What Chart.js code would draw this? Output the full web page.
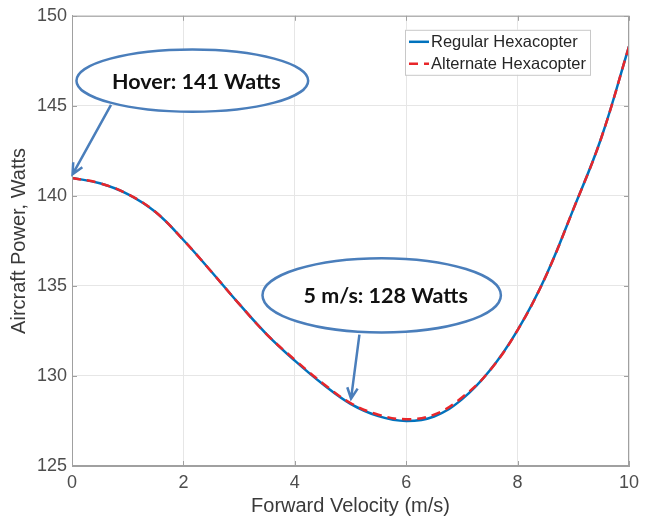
<!DOCTYPE html>
<html>
<head>
<meta charset="utf-8">
<script src="https://cdn.jsdelivr.net/npm/chart.js@4"></script>
<style>
  html, body { margin: 0; padding: 0; background: #fff; }
</style>
</head>
<body>
<canvas id="powerChart" width="648" height="524"></canvas>
<script>
const ctx = document.getElementById("powerChart");

// values
const velocity = [0, 0.5, 1, 1.5, 2, 2.5, 3, 3.5, 4, 4.5, 5, 5.5, 6, 6.5, 7, 7.5, 8, 8.5, 9, 9.5, 10];
const regularPower = [141.0, 140.7, 140.1, 139.1, 137.55, 135.8, 134.0, 132.3, 130.85, 129.55, 128.45, 127.77, 127.5, 127.75, 128.7, 130.3, 132.55, 135.5, 139.25, 143.2, 148.3];
const alternatePower = [141.0, 140.7, 140.1, 139.1, 137.55, 135.8, 134.0, 132.3, 130.9, 129.6, 128.5, 127.85, 127.6, 127.85, 128.8, 130.3, 132.55, 135.5, 139.25, 143.2, 148.3];
const xTicks = [0, 2, 4, 6, 8, 10];
const yTicks = [125, 130, 135, 140, 145, 150];

const seriesNames = ["Regular Hexacopter", "Alternate Hexacopter"];
const calloutTexts = ["Hover: 141 Watts", "5 m/s: 128 Watts"];

// callouts in data units: ellipse centre/radii and arrow from -> to
const callouts = [
    { text: calloutTexts[0], cx: 2.16, cy: 146.4, rx: 2.08, ry: 1.73, ax: 0.70, ay: 145.05, bx: 0.01, by: 141.2 },
    { text: calloutTexts[1], cx: 5.56, cy: 134.48, rx: 2.14, ry: 2.06, ax: 5.16, ay: 132.3, bx: 5.01, by: 128.74 }
];

const tickFont = { family: "Liberation Sans", size: 18 };
const titleFont = { family: "Liberation Sans", size: 20 };
const calloutBlue = "#4A7EBB";

function drawArrow(c, x1, y1, x2, y2) {
    const ang = Math.atan2(y2 - y1, x2 - x1);
    const len = 12;
    c.beginPath();
    c.moveTo(x1, y1);
    c.lineTo(x2, y2);
    c.moveTo(x2 - len * Math.cos(ang - 0.45), y2 - len * Math.sin(ang - 0.45));
    c.lineTo(x2, y2);
    c.lineTo(x2 - len * Math.cos(ang + 0.45), y2 - len * Math.sin(ang + 0.45));
    c.stroke();
}

const extrasPlugin = {
    id: "extras",
    afterDatasetsDraw(chart) {
        const c = chart.ctx;
        const xs = chart.scales.x, ys = chart.scales.y;
        const area = chart.chartArea;

        // box and inward ticks, matlab style
        c.save();
        c.strokeStyle = "#a0a0a0";
        c.lineWidth = 1;
        c.strokeRect(area.left + 0.5, area.top + 0.5, area.right - area.left - 1, area.bottom - area.top - 1);
        c.beginPath();
        xTicks.forEach(v => {
            const px = Math.round(xs.getPixelForValue(v)) + 0.5;
            c.moveTo(px, area.bottom); c.lineTo(px, area.bottom - 5);
            c.moveTo(px, area.top); c.lineTo(px, area.top + 5);
        });
        yTicks.forEach(v => {
            const py = Math.round(ys.getPixelForValue(v)) + 0.5;
            c.moveTo(area.left, py); c.lineTo(area.left + 5, py);
            c.moveTo(area.right, py); c.lineTo(area.right - 5, py);
        });
        c.stroke();
        c.restore();

        // callouts
        c.save();
        c.strokeStyle = calloutBlue;
        c.lineWidth = 2.5;
        callouts.forEach(o => {
            const cx = xs.getPixelForValue(o.cx), cy = ys.getPixelForValue(o.cy);
            const rx = xs.getPixelForValue(o.cx + o.rx) - cx;
            const ry = cy - ys.getPixelForValue(o.cy + o.ry);
            c.beginPath();
            c.ellipse(cx, cy, rx, ry, 0, 0, Math.PI * 2);
            c.fillStyle = "#fff";
            c.fill();
            c.stroke();
            c.fillStyle = "#111";
            c.font = "bold 21.5px Lato";
            c.textAlign = "center";
            c.textBaseline = "middle";
            c.fillText(o.text, cx + 4, cy + 1);
            drawArrow(c, xs.getPixelForValue(o.ax), ys.getPixelForValue(o.ay),
                xs.getPixelForValue(o.bx), ys.getPixelForValue(o.by));
        });
        c.restore();

        // legend box
        const lx = area.right - 224, ly = area.top + 14, lw = 185, lh = 45;
        c.save();
        c.fillStyle = "#fff";
        c.fillRect(lx, ly, lw, lh);
        c.strokeStyle = "#c8c8c8";
        c.lineWidth = 1;
        c.strokeRect(lx + 0.5, ly + 0.5, lw, lh);
        c.font = "16.5px Liberation Sans";
        c.textBaseline = "middle";
        c.textAlign = "left";
        chart.data.datasets.forEach((ds, i) => {
            const yy = ly + 12 + i * 22;
            c.strokeStyle = ds.borderColor;
            c.lineWidth = 2.5;
            c.setLineDash(ds.borderDash || []);
            c.beginPath();
            c.moveTo(lx + 4, yy);
            c.lineTo(lx + 24, yy);
            c.stroke();
            c.setLineDash([]);
            c.fillStyle = "#262626";
            c.fillText(ds.label, lx + 26, yy + 1);
        });
        c.restore();
    }
};

new Chart(ctx, {
    type: "line",
    data: {
        datasets: [{
            label: seriesNames[0],
            data: velocity.map((v, i) => ({ x: v, y: regularPower[i] })),
            borderColor: "#0072BD",
            borderWidth: 2.5,
            pointRadius: 0,
            tension: 0.4,
            order: 1
        }, {
            label: seriesNames[1],
            data: velocity.map((v, i) => ({ x: v, y: alternatePower[i] })),
            borderColor: "#E8262A",
            borderWidth: 2.5,
            borderDash: [9, 6],
            pointRadius: 0,
            tension: 0.4,
            order: 0
        }]
    },
    options: {
        responsive: false,
        animation: false,
        layout: { padding: { top: 11, right: 19, left: 0, bottom: 0 } },
        plugins: { legend: { display: false }, tooltip: { enabled: false } },
        scales: {
            x: {
                type: "linear",
                min: 0,
                max: 10,
                afterBuildTicks: s => { s.ticks = xTicks.map(v => ({ value: v })); },
                afterFit: s => { s.height = 58; },
                ticks: { font: tickFont, color: "#4d4d4d", padding: 6, maxRotation: 0 },
                grid: { color: "#e6e6e6", drawTicks: false },
                border: { color: "#a0a0a0" },
                title: { display: true, text: "Forward Velocity (m/s)", font: titleFont, color: "#3a3a3a", padding: { top: 0, bottom: 6 } }
            },
            y: {
                min: 125,
                max: 150,
                afterBuildTicks: s => { s.ticks = yTicks.map(v => ({ value: v })); },
                afterFit: s => { s.width = 72; },
                ticks: { font: tickFont, color: "#4d4d4d", padding: 5 },
                grid: { color: "#e6e6e6", drawTicks: false },
                border: { color: "#a0a0a0" },
                title: { display: true, text: "Aircraft Power, Watts", font: titleFont, color: "#3a3a3a", padding: { top: 7, bottom: 0 } }
            }
        }
    },
    plugins: [extrasPlugin]
});
</script>
</body>
</html>
